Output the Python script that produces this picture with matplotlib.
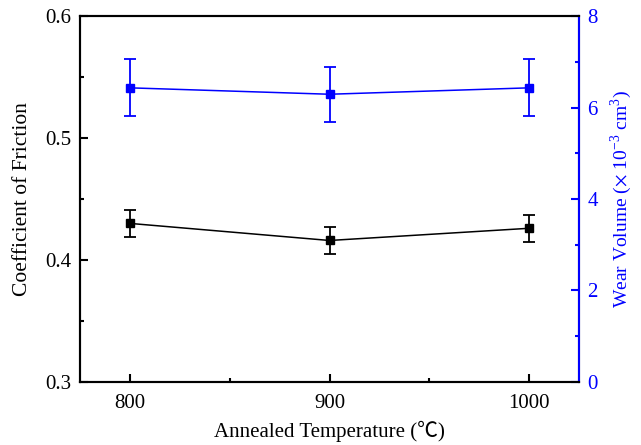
import matplotlib
matplotlib.use('Agg')
import matplotlib.pyplot as plt
from matplotlib.ticker import MultipleLocator

plt.rcParams['font.family'] = ['Liberation Serif', 'Noto Sans CJK SC', 'DejaVu Sans']
plt.rcParams['mathtext.fontset'] = 'stix'

# data
temperature = [800, 900, 1000]
friction = [0.430, 0.416, 0.426]
friction_err = [0.011, 0.011, 0.011]
wear_volume = [6.43, 6.29, 6.43]
wear_err = [0.62, 0.60, 0.62]

fig = plt.figure(figsize=(6.41, 4.45), dpi=100)
ax = fig.add_axes([0.1248, 0.1416, 0.7785, 0.8224])
ax2 = ax.twinx()

ax.errorbar(temperature, friction, yerr=friction_err, color='black', marker='s',
            markersize=5.5, linewidth=1.1, elinewidth=1.3, capsize=4, capthick=1.3)
ax2.errorbar(temperature, wear_volume, yerr=wear_err, color='blue', marker='s',
             markersize=5.5, linewidth=1.1, elinewidth=1.3, capsize=4, capthick=1.3)

ax.set_xlim(775, 1025)
ax.set_ylim(0.3, 0.6)
ax2.set_ylim(0, 8)

ax.set_xticks(temperature)
ax.xaxis.set_minor_locator(MultipleLocator(50))
ax.set_yticks([0.3, 0.4, 0.5, 0.6])
ax.yaxis.set_minor_locator(MultipleLocator(0.05))
ax2.set_yticks([0, 2, 4, 6, 8])
ax2.yaxis.set_minor_locator(MultipleLocator(1))

ax.tick_params(which='both', direction='in', labelsize=15, width=1.5, pad=6)
ax.tick_params(which='major', length=6)
ax.tick_params(which='minor', length=3)
ax.tick_params(axis='y', which='both', right=False)
ax.tick_params(axis='x', which='both', top=False, pad=9)
ax2.tick_params(which='both', direction='in', labelsize=15, width=1.5, colors='blue', pad=6)
ax2.tick_params(which='major', length=6)
ax2.tick_params(which='minor', length=3)

for s in ax.spines.values():
    s.set_linewidth(1.5)
for s in ax2.spines.values():
    s.set_linewidth(1.5)
ax2.spines['right'].set_color('blue')

ax.set_xlabel('Annealed Temperature (\u2103)', fontsize=15, labelpad=5)
ax.set_ylabel('Coefficient of Friction', fontsize=15.5, labelpad=10)
ax2.set_ylabel(r'Wear Volume ($\times$ 10$^{\mathregular{-3}}$ cm$^{\mathregular{3}}$)', fontsize=14,
               color='blue', labelpad=8)

plt.savefig('out.png', dpi=100)
